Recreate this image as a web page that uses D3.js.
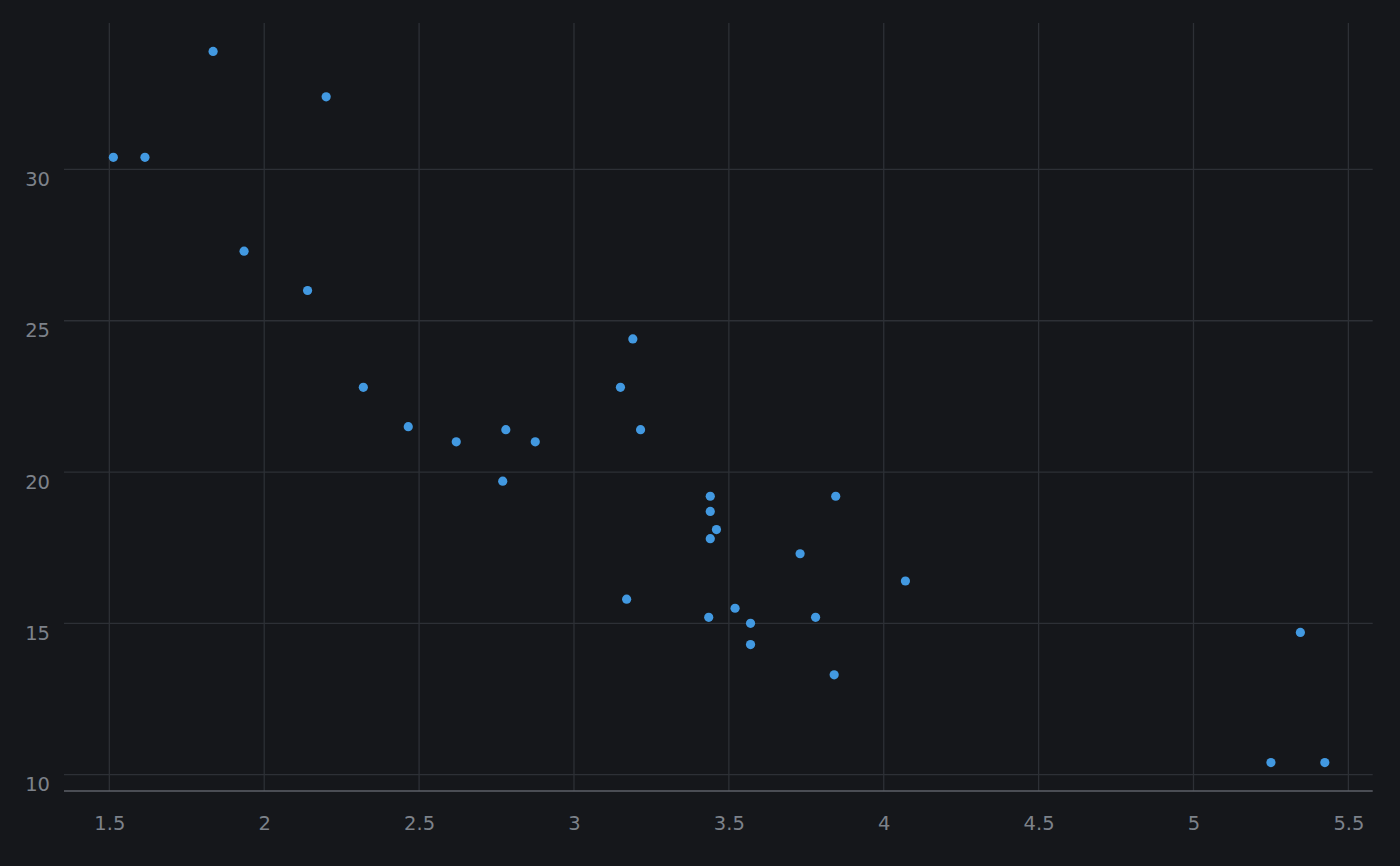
<!DOCTYPE html>
<html><head><meta charset="utf-8">
<script src="https://cdn.jsdelivr.net/npm/d3@7"></script>
<style>html,body{margin:0;padding:0;background:#15171b;}svg{display:block;}</style>
</head><body>
<svg id="chart" width="1400" height="866"></svg>
<script>
const wt = [2.620,2.875,2.320,3.215,3.440,3.460,3.570,3.190,3.150,3.440,3.440,4.070,3.730,3.780,5.250,5.424,5.345,2.200,1.615,1.835,2.465,3.520,3.435,3.840,3.845,1.935,2.140,1.513,3.170,2.770,3.570,2.780];
const mpg = [21.0,21.0,22.8,21.4,18.7,18.1,14.3,24.4,22.8,19.2,17.8,16.4,17.3,15.2,10.4,10.4,14.7,32.4,30.4,33.9,21.5,15.5,15.2,13.3,19.2,27.3,26.0,30.4,15.8,19.7,15.0,21.4];
const xTicks = [1.5,2,2.5,3,3.5,4,4.5,5,5.5];
const yTicks = [10,15,20,25,30];

const svg = d3.select("#chart");
const L = 64, R = 1372.7, T = 23, B = 791;
const xPad = (d3.max(wt)-d3.min(wt))*0.04, yPad = (d3.max(mpg)-d3.min(mpg))*0.04;
const x = d3.scaleLinear().domain([d3.min(wt)-xPad, d3.max(wt)+xPad]).range([L+0.9,R+0.6]);
const y = d3.scaleLinear().domain([d3.min(mpg)-yPad, d3.max(mpg)+yPad]).range([B,T]);

svg.append("rect").attr("width",1400).attr("height",866).attr("fill","#15171b");

const g = svg.append("g");
g.selectAll("line.vx").data(xTicks).join("line")
  .attr("x1",d=>x(d)).attr("x2",d=>x(d)).attr("y1",T).attr("y2",B)
  .attr("stroke","#2d3036").attr("stroke-width",1.3);
g.selectAll("line.hy").data(yTicks).join("line")
  .attr("x1",L).attr("x2",R).attr("y1",d=>y(d)).attr("y2",d=>y(d))
  .attr("stroke","#2d3036").attr("stroke-width",1.3);

const xAxis = d3.axisBottom(x).tickValues(xTicks).tickSize(0).tickPadding(0).tickFormat(d3.format("~g"));
const ax = svg.append("g").attr("transform",`translate(0,${B})`).call(xAxis);
ax.select(".domain").attr("stroke","#5d6169").attr("stroke-width",1.5).attr("d",`M${L},0H${R}`);
ax.selectAll("text").attr("fill","#7d828a").attr("font-family","DejaVu Sans").attr("font-size",19.5).attr("dy","0").attr("y",39);

const yAxis = d3.axisLeft(y).tickValues(yTicks).tickSize(0).tickPadding(0);
const ay = svg.append("g").attr("transform",`translate(${L},0)`).call(yAxis);
ay.select(".domain").remove();
ay.selectAll("text").attr("fill","#7d828a").attr("font-family","DejaVu Sans").attr("font-size",19.5).attr("x",-14).attr("dy","0").attr("y",16);

svg.append("g").selectAll("circle").data(wt.map((w,i)=>[w,mpg[i]])).join("circle")
  .attr("cx",d=>x(d[0])).attr("cy",d=>y(d[1])).attr("r",4.6).attr("fill","#4299e1");
</script>
</body></html>
